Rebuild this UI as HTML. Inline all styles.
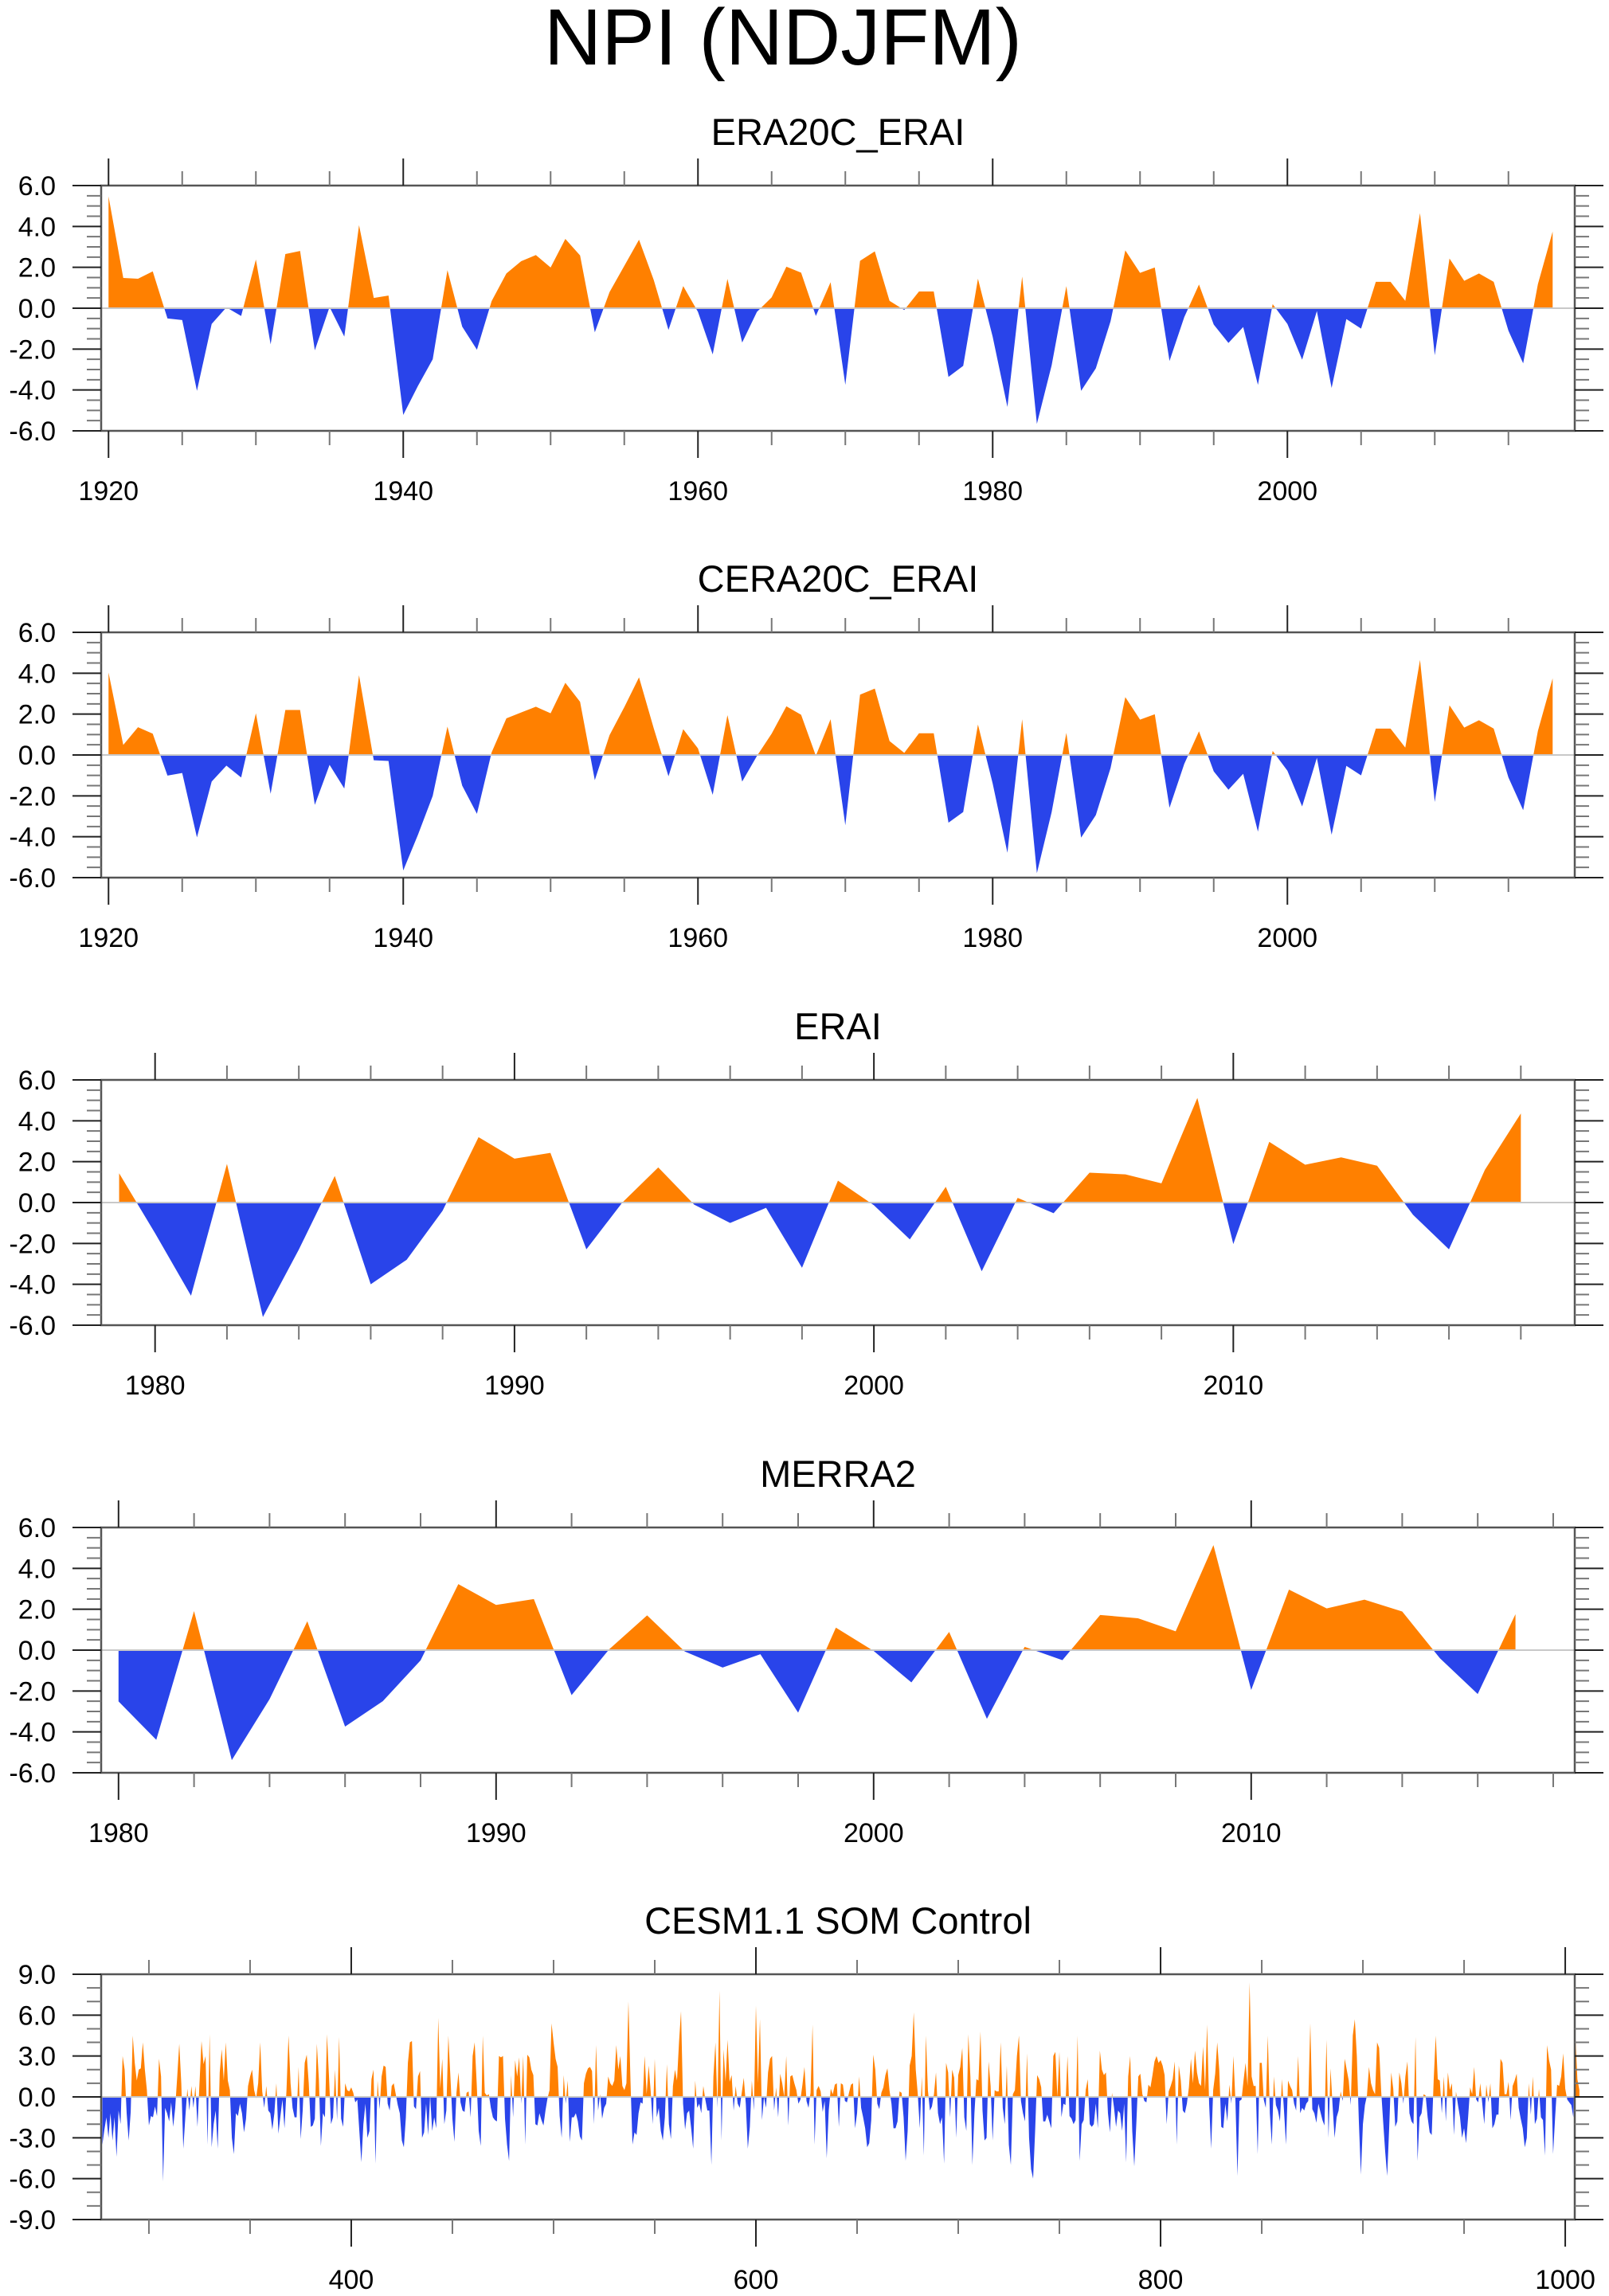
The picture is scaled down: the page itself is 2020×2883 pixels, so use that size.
<!DOCTYPE html>
<html><head><meta charset="utf-8"><title>NPI (NDJFM)</title>
<style>html,body{margin:0;padding:0;background:#fff}svg{display:block}text{font-family:"Liberation Sans",Arial,sans-serif;fill:#000}</style>
</head><body>
<svg id="chart" xmlns="http://www.w3.org/2000/svg" width="2020" height="2883" viewBox="0 0 2020 2883">
<rect x="0" y="0" width="2020" height="2883" fill="#fff"/>
<text x="983" y="81" font-size="100" text-anchor="middle">NPI (NDJFM)</text>
</svg>
<script>
// ---------- data ----------
const era20cValues = [5.47,1.48,1.44,1.8,-0.5,-0.58,-4.04,-0.77,0.04,-0.38,2.38,-1.77,2.65,2.8,-2.06,0.06,-1.39,4.06,0.5,0.62,
-5.22,-3.8,-2.5,1.86,-0.9,-2.03,0.35,1.7,2.3,2.6,1.99,3.39,2.58,-1.18,0.79,2.07,3.35,1.38,-1.06,1.08,
-0.18,-2.26,1.43,-1.68,-0.18,0.53,2.03,1.74,-0.38,1.27,-3.75,2.32,2.78,0.36,-0.09,0.82,0.82,-3.36,-2.82,1.44,
-1.4,-4.83,1.55,-5.66,-2.8,1.08,-4.04,-2.94,-0.64,2.83,1.73,1.99,-2.58,-0.44,1.16,-0.8,-1.7,-0.92,-3.75,0.2,
-0.77,-2.52,-0.14,-3.9,-0.53,-1.0,1.29,1.29,0.36,4.65,-2.3,2.43,1.34,1.7,1.29,-1.1,-2.7,1.18,3.75];
const cera20cValues = [4.03,0.49,1.36,1.04,-1.01,-0.88,-4.03,-1.3,-0.52,-1.1,2.04,-1.9,2.2,2.2,-2.44,-0.48,-1.64,3.9,-0.26,-0.29,
-5.65,-3.9,-2.0,1.39,-1.5,-2.88,0.13,1.79,2.08,2.36,2.04,3.53,2.6,-1.23,0.97,2.34,3.8,1.3,-1.04,1.26,
0.32,-1.95,1.95,-1.3,-0.05,1.04,2.38,1.97,-0.04,1.75,-3.44,2.95,3.25,0.68,0.1,1.06,1.06,-3.31,-2.79,1.49,
-1.4,-4.78,1.75,-5.78,-2.8,1.08,-4.04,-2.94,-0.64,2.83,1.73,1.99,-2.58,-0.44,1.16,-0.8,-1.7,-0.92,-3.75,0.2,
-0.77,-2.52,-0.14,-3.9,-0.53,-1.0,1.29,1.29,0.36,4.65,-2.3,2.43,1.34,1.7,1.29,-1.1,-2.7,1.18,3.75];
const eraiValues = [1.43,-1.5,-4.56,1.89,-5.6,-2.3,1.3,-4.0,-2.8,-0.4,3.2,2.15,2.43,-2.29,0.0,1.72,-0.1,-1.0,-0.26,-3.19,
1.07,-0.13,-1.8,0.77,-3.36,0.23,-0.52,1.46,1.38,0.94,5.12,-2.03,2.97,1.85,2.21,1.8,-0.6,-2.29,1.6,4.36];
const merra2Values = [-2.51,-4.39,1.91,-5.38,-2.4,1.41,-3.74,-2.5,-0.5,3.23,2.21,2.5,-2.2,0.05,1.7,-0.07,-0.85,-0.2,-3.06,1.1,
-0.04,-1.58,0.89,-3.36,0.16,-0.49,1.72,1.56,0.92,5.14,-1.95,2.96,2.04,2.47,1.89,-0.4,-2.15,1.76];
const cesmValues = [
-3.5,-2.4,-1.5,-3.0,-1.2,-3.2,-1.5,-4.4,-1.0,-2.0,3.0,2.0,-1.2,-3.2,-1.1,4.5,2.5,1.2,2.0,2.1,4.0,2.0,0.5,-2.1,-1.4,-1.5,-0.7,-1.4,2.8,1.5,
-6.2,-0.8,-1.2,-1.8,-0.4,-2.2,-0.8,1.5,3.9,1.0,-3.8,-1.5,0.6,-1.0,0.8,-0.8,0.8,-2.2,1.0,4.1,2.4,3.0,-3.5,4.6,-3.7,-2.0,-1.0,-3.8,1.8,3.5,
1.2,4.0,1.2,0.5,-3.0,-4.2,-1.2,-1.4,-0.5,-1.2,-2.6,-1.6,0.8,1.5,2.0,0.5,-0.1,1.0,4.0,0.4,-0.8,0.8,-1.0,-1.2,-2.4,-1.2,1.0,-2.7,-1.4,-0.2,
-2.3,0.5,4.5,1.0,-0.8,-1.5,-1.5,2.2,-3.1,-1.0,2.5,3.1,1.0,-2.2,-2.1,-1.6,3.9,1.3,-3.6,-1.2,-1.5,4.6,1.5,-2.0,-1.5,2.0,-1.7,4.4,-1.6,-2.2,
1.0,0.5,0.4,0.7,0.3,-0.4,-0.2,-2.5,-4.8,-2.0,-0.5,-3.0,-2.5,1.3,2.0,-4.9,1.2,-0.9,1.5,2.3,2.2,-0.5,-1.0,0.8,1.0,0.2,-0.6,-1.2,-3.2,-3.7,
-1.5,2.5,4.0,4.1,-0.7,-0.9,1.5,1.9,-3.0,-2.6,-0.5,-2.8,0.1,-2.5,-1.5,-2.3,5.8,0.6,2.8,-2.0,-1.0,4.5,1.5,-1.6,-3.3,0.3,1.8,-0.4,-1.0,-1.1,
0.3,0.4,-1.5,3.0,4.0,1.0,-2.5,-3.6,4.5,0.3,0.1,0.2,-0.8,-1.5,-1.7,-1.8,3.0,2.9,3.0,-1.6,-3.5,-4.7,1.6,-1.5,2.7,1.5,2.9,-0.5,3.0,-3.5,
3.1,2.9,2.0,1.6,-2.0,-2.1,-1.2,-1.7,-2.1,-1.0,-0.1,0.5,5.4,4.0,2.8,2.2,-1.4,-3.0,1.6,-0.5,1.2,-3.3,-1.5,-1.5,-1.2,-1.8,-2.9,-3.2,1.0,1.7,
2.1,2.2,1.9,-2.0,3.8,-1.0,0.2,-1.6,-0.8,-0.5,1.5,1.0,0.8,1.2,3.8,2.0,3.0,0.8,0.5,1.0,7.0,1.2,-3.5,-2.6,-2.8,-1.2,-0.4,-0.5,3.0,0.2,
2.3,0.4,-2.0,2.8,-1.5,-0.8,-2.5,-3.2,-1.5,2.4,-2.0,-3.1,0.8,2.0,1.2,4.0,6.3,-0.5,-2.4,-1.2,-1.0,-2.3,-3.8,1.2,-0.8,-0.5,-1.2,0.8,-0.2,-1.0,
-1.0,-5.0,1.5,4.0,-0.8,7.8,-3.2,3.5,1.1,4.2,1.1,1.6,-1.0,0.8,-0.5,-0.8,0.3,1.4,-0.5,-3.8,-2.2,1.2,-1.0,6.7,1.0,5.7,-1.7,0.0,-0.8,1.8,
2.8,3.0,-1.0,0.7,-1.5,1.7,1.0,0.0,3.0,-2.1,1.5,1.6,1.0,0.5,-0.5,-0.2,0.9,2.2,-0.3,-0.8,0.3,5.3,-3.5,0.5,0.8,0.4,-1.1,-0.3,-4.5,-1.0,
0.6,0.2,0.9,1.0,-2.2,1.0,
0.9,-0.3,-0.4,0.3,0.9,1.0,-2.3,-1.2,1.5,-0.8,-1.5,-2.3,-3.7,-3.4,-1.7,3.1,2.0,-0.5,-0.9,0.3,0.7,1.6,2.1,0.5,-0.5,-2.3,-2.3,-1.8,0.4,0.3,
-1.5,-4.7,-2.5,2.3,3.0,6.2,2.0,0.2,-2.3,1.5,-4.3,4.5,0.5,-1.0,-0.7,0.2,1.8,-1.2,-2.0,-1.5,-4.9,2.5,1.8,-1.5,2.0,1.4,-3.0,1.6,2.2,3.6,
-1.5,-2.5,4.6,1.5,-5.0,-1.2,1.3,1.2,4.8,-1.0,-3.2,-3.0,2.6,0.8,-3.2,0.5,0.4,0.4,4.0,-0.8,-2.0,2.3,-3.5,-5.0,0.2,0.5,3.0,4.5,-0.3,-1.2,
-1.8,3.2,-3.0,-5.3,-6.0,-2.5,1.6,1.3,0.7,-1.8,-1.8,-1.3,-1.8,-2.3,3.0,3.3,0.0,3.3,-1.5,-0.5,-0.6,3.0,-1.4,-1.6,-2.0,-1.7,4.5,-4.7,-2.0,-1.7,
0.5,1.3,-2.0,-2.2,-2.0,-0.5,-2.3,3.4,2.0,1.6,1.8,-1.2,-2.6,0.3,-0.8,-2.2,-1.0,-1.2,-2.5,-0.5,-4.8,1.5,3.0,-2.5,-5.1,-2.0,1.5,1.7,0.2,-0.3,
-0.4,0.9,0.7,1.6,2.6,3.0,2.5,2.7,2.3,1.6,-2.0,0.4,0.8,1.3,2.6,-3.5,2.3,1.2,-1.0,-1.2,-0.5,0.7,2.8,1.0,3.4,1.8,1.0,0.8,3.7,0.5,
5.3,-0.5,-3.8,0.5,1.7,4.0,2.0,-2.2,-2.3,-0.5,-1.8,0.9,-0.5,3.0,-0.3,-5.8,-0.3,-0.2,1.2,2.5,0.8,8.4,1.5,0.8,0.8,-4.2,2.5,2.5,-0.2,-0.8,
4.5,-1.2,-3.5,1.5,-0.6,-1.0,-1.8,1.3,-1.0,-3.5,1.2,0.8,0.5,-0.5,-1.0,3.0,-1.2,-0.8,-1.0,-0.5,-0.3,5.4,-0.9,-1.2,-1.9,-0.5,-1.1,-1.7,-2.1,4.2,
-3.0,2.1,-0.6,-3.0,-1.5,-1.0,0.4,-0.3,2.8,2.0,1.2,-0.6,4.5,5.7,3.0,-1.8,-5.7,-2.0,-0.6,0.1,2.2,1.0,0.5,0.2,4.0,3.6,0.5,-1.8,-4.0,-5.8,
-2.2,1.8,0.6,-2.2,-1.8,1.8,1.0,-0.5,1.5,2.6,-1.2,-1.8,-2.0,4.4,-4.7,-1.5,-1.2,0.2,0.1,-1.5,-2.6,-2.8,1.3,4.5,1.3,1.2,-1.2,1.5,-1.8,1.8,
0.5,1.0,-2.8,0.4,-0.6,-1.5,-3.0,-2.3,-3.4,-1.5,0.7,0.2,2.2,-0.2,-0.4,1.0,-0.5,-2.0,0.9,-0.4,1.0,-2.3,-2.0,-1.3,-1.3,2.8,2.5,0.2,0.2,1.1,
-1.7,0.8,1.2,1.7,-0.8,-1.6,-2.3,-3.7,-3.0,1.0,-1.3,1.5,-2.0,-1.6,0.6,-1.5,-1.7,-4.3,3.8,2.7,2.0,-4.2,-1.5,0.9,0.8,1.5,3.2,0.6,-0.2,-0.4,
-0.6,-1.5,4.5,1.3,0.5];
// tick labels
const yTicks6 = ["-6.0","-4.0","-2.0","0.0","2.0","4.0","6.0"];
const yTicks9 = ["-9.0","-6.0","-3.0","0.0","3.0","6.0","9.0"];
const xTicks1 = ["1920","1940","1960","1980","2000"];
const xTicks3 = ["1980","1990","2000","2010"];
const xTicks5 = ["400","600","800","1000"];

// ---------- drawing ----------
const NS = "http://www.w3.org/2000/svg";
const svg = document.getElementById("chart");
const POS = "#ff8000", NEG = "#2944ea";
function mk(tag, attrs, parent) {
  const e = document.createElementNS(NS, tag);
  for (const k in attrs) e.setAttribute(k, attrs[k]);
  (parent || svg).appendChild(e);
  return e;
}
const L = 127, R = 1977, H = 308;

function panel(p) {
  const g = mk("g", {});
  
  
  const top = p.top, bot = top + H;
  const sx = v => L + (v - p.xmin) / (p.xmax - p.xmin) * (R - L);
  const sy = v => bot - (v - p.ymin) / (p.ymax - p.ymin) * H;
  const y0 = sy(0);
  // title
  const t = mk("text", {x: 1052, y: top - 51, "font-size": 47, "text-anchor": "middle"}, g);
  
  
  t.textContent = p.title;
  // fills
  const pts = [];
  for (let i = 0; i < p.values.length; i++) {
    const x = p.x0 + i * p.dx, v = p.values[i];
    if (i > 0) {
      const pv = p.values[i - 1];
      if ((pv > 0 && v < 0) || (pv < 0 && v > 0)) {
        const f = pv / (pv - v);
        pts.push([x - p.dx + f * p.dx, 0]);
      }
    }
    pts.push([x, v]);
  }
  const first = pts[0][0], last = pts[pts.length - 1][0];
  let dp = "M" + sx(first) + "," + y0, dn = dp;
  pts.forEach(q => {
    dp += " L" + sx(q[0]).toFixed(2) + "," + sy(Math.max(q[1], 0)).toFixed(2);
    dn += " L" + sx(q[0]).toFixed(2) + "," + sy(Math.min(q[1], 0)).toFixed(2);
  });
  dp += " L" + sx(last) + "," + y0 + " Z";
  dn += " L" + sx(last) + "," + y0 + " Z";
  const fp = mk("path", {d: dp, fill: POS, stroke: "none"}, g);
  
  
  const fn = mk("path", {d: dn, fill: NEG, stroke: "none"}, g);
  
  
  // zero line
  const zl = mk("line", {x1: L, x2: R, y1: y0, y2: y0, stroke: "#c8c8c8", "stroke-width": 2}, g);
  
  
  // frame
  const fr = mk("rect", {x: L, y: top, width: R - L, height: H, fill: "none", stroke: "#555", "stroke-width": 2.5}, g);
  
  
  // y ticks
  for (let v = p.ymin; v <= p.ymax + 1e-9; v += p.yMinor) {
    const major = Math.abs(v / p.yMajor - Math.round(v / p.yMajor)) < 1e-6;
    const len = major ? 36 : 18, y = sy(v);
    const col = major ? "#222" : "#777";
    mk("line", {x1: L - len, x2: L, y1: y, y2: y, stroke: col, "stroke-width": 2}, g);
    mk("line", {x1: R, x2: R + len, y1: y, y2: y, stroke: col, "stroke-width": 2}, g);
  }
  p.yLabels.forEach((s, i) => {
    const lab = mk("text", {x: 70, y: sy(p.ymin + i * p.yMajor) + 12, "font-size": 34, "text-anchor": "end"}, g);
    
    
    lab.textContent = s;
  });
  // x ticks
  const start = Math.ceil(p.xmin / p.xMinor) * p.xMinor;
  for (let v = start; v <= p.xmax + 1e-9; v += p.xMinor) {
    const major = Math.abs(v / p.xMajor - Math.round(v / p.xMajor)) < 1e-6;
    const len = major ? 34 : 18, x = sx(v);
    const col = major ? "#222" : "#777";
    mk("line", {x1: x, x2: x, y1: top - len, y2: top, stroke: col, "stroke-width": 2}, g);
    mk("line", {x1: x, x2: x, y1: bot, y2: bot + len, stroke: col, "stroke-width": 2}, g);
  }
  p.xLabels.forEach(s => {
    const lab = mk("text", {x: sx(+s), y: top + 395, "font-size": 34, "text-anchor": "middle"}, g);
    
    
    lab.textContent = s;
  });
}

panel({name: "era20c-erai-panel", title: "ERA20C_ERAI", top: 233, values: era20cValues, x0: 1920, dx: 1,
  xmin: 1919.5, xmax: 2019.5, ymin: -6, ymax: 6, yMajor: 2, yMinor: 0.5, yLabels: yTicks6, xMajor: 20, xMinor: 5, xLabels: xTicks1});
panel({name: "cera20c-erai-panel", title: "CERA20C_ERAI", top: 794, values: cera20cValues, x0: 1920, dx: 1,
  xmin: 1919.5, xmax: 2019.5, ymin: -6, ymax: 6, yMajor: 2, yMinor: 0.5, yLabels: yTicks6, xMajor: 20, xMinor: 5, xLabels: xTicks1});
panel({name: "erai-panel", title: "ERAI", top: 1356, values: eraiValues, x0: 1979, dx: 1,
  xmin: 1978.5, xmax: 2019.5, ymin: -6, ymax: 6, yMajor: 2, yMinor: 0.5, yLabels: yTicks6, xMajor: 10, xMinor: 2, xLabels: xTicks3});
panel({name: "merra2-panel", title: "MERRA2", top: 1918, values: merra2Values, x0: 1980, dx: 1,
  xmin: 1979.54, xmax: 2018.57, ymin: -6, ymax: 6, yMajor: 2, yMinor: 0.5, yLabels: yTicks6, xMajor: 10, xMinor: 2, xLabels: xTicks3});
panel({name: "cesm-som-control-panel", title: "CESM1.1 SOM Control", top: 2479, values: cesmValues, x0: 277, dx: 1,
  xmin: 276.4, xmax: 1004.7, ymin: -9, ymax: 9, yMajor: 3, yMinor: 1, yLabels: yTicks9, xMajor: 200, xMinor: 50, xLabels: xTicks5});
</script>
</body></html>
